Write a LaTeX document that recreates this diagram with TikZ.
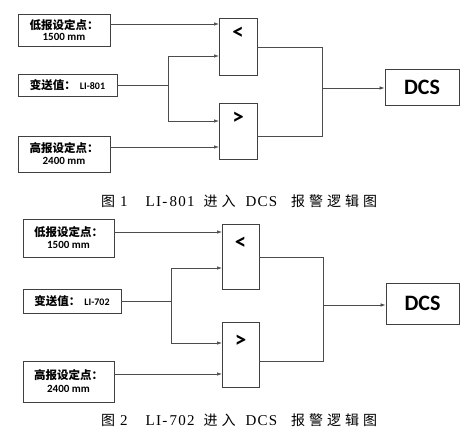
\documentclass[tikz,border=0pt]{standalone}
\usepackage{fontspec}
\setmainfont{Liberation Serif}
\newfontfamily\cjk{Noto Sans CJK SC}
\newfontfamily\calfont{Carlito}
\newfontfamily\spaced[LetterSpace=8]{Liberation Serif}
\usetikzlibrary{arrows.meta}
\tikzset{
  box/.style={draw=black!75, line width=0.8pt, inner sep=0pt, align=center, fill=white},
  cmp/.style={draw=black!75, line width=0.8pt, inner sep=0pt, minimum width=38pt},
  sym/.style={inner sep=0pt, font=\calfont\bfseries\fontsize{23}{23}\selectfont},
  wire/.style={draw=black!70, line width=0.7pt},
  arr/.style={wire, -{Latex[length=5pt,width=3.5pt]}},
  captext/.style={inner sep=0pt, font=\fontsize{15}{17}\selectfont},
  dcsbox/.style={box, font=\calfont\bfseries\fontsize{22}{22}\selectfont},
}
\newcommand{\zh}[1]{{\cjk\bfseries\fontsize{11.5}{13}\selectfont #1}}
\newcommand{\lt}[1]{{\calfont\bfseries\fontsize{11}{12}\selectfont #1}}
\newcommand{\lts}[1]{{\calfont\bfseries\fontsize{10}{12}\selectfont #1}}
\newcommand{\zhc}[1]{{\cjk\fontsize{14}{16}\selectfont #1}}
\newcommand{\lsp}[1]{{\spaced\fontsize{15}{17}\selectfont #1}}
\newcommand{\g}{\hspace{4pt}}
\newcommand{\captionline}[2]{\zhc{图}\hspace{5pt}\lsp{#1}\hspace{18pt}\lsp{LI-}\hspace{2.5pt}\lsp{#2}\hspace{9pt}\zhc{进}\hspace{4pt}\zhc{入}\hspace{10pt}\lsp{DCS}\hspace{14pt}\zhc{报}\g\zhc{警}\g\zhc{逻}\g\zhc{辑}\g\zhc{图}}
\begin{document}
\begin{tikzpicture}[x=1pt,y=1pt]
\useasboundingbox (0,0) rectangle (470,-433);
% ---------- Figure 1 ----------
\node[box, minimum width=92pt, minimum height=32pt] (low1) at (64,-30) {\zh{低报设定点：}\\[-1pt]\lt{1500 mm}};
\node[box, minimum width=99pt, minimum height=22pt] (tr1) at (67.5,-85) {\zh{变送值：}\hspace{4pt}\lts{LI-801}};
\node[box, minimum width=92pt, minimum height=36pt] (high1) at (64,-154) {\zh{高报设定点：}\\[0pt]\lt{2400 mm}};
\node[cmp, minimum height=57pt] (lt1) at (238,-46.5) {};
\node[sym] (lt1s) at (238,-33) {<};
\node[cmp, minimum height=56pt] (gt1) at (238,-131) {};
\node[sym] (gt1s) at (238,-118) {>};
\node[dcsbox, minimum width=74pt, minimum height=36pt] (dcs1) at (422,-87) {DCS};
\coordinate (a1) at (219,-24);
\coordinate (b1) at (219,-56);
\coordinate (c1) at (219,-121);
\coordinate (d1) at (219,-147);
\coordinate (br1) at (168,-85);
\coordinate (j1) at (322,-88);
\draw[arr] (low1.east |- a1) -- (a1);
\draw[wire] (tr1.east) -- (br1);
\draw[arr] (br1) |- (b1);
\draw[arr] (br1) |- (c1);
\draw[arr] (high1.east |- d1) -- (d1);
\draw[wire] (lt1.east |- 0,-47) -| (j1);
\draw[wire] (gt1.east |- 0,-136) -| (j1);
\draw[arr] (j1) -- (dcs1.west |- j1);
\node[captext, anchor=west] (cap1) at (101,-201.5) {\captionline{1}{801}};
% ---------- Figure 2 ----------
\node[box, minimum width=91pt, minimum height=38pt] (low2) at (68.5,-238) {\zh{低报设定点：}\\[0pt]\lt{1500 mm}};
\node[box, minimum width=98pt, minimum height=24pt] (tr2) at (72,-301) {\zh{变送值：}\hspace{4pt}\lts{LI-702}};
\node[box, minimum width=91pt, minimum height=41pt] (high2) at (68.5,-381.5) {\zh{高报设定点：}\\[1pt]\lt{2400 mm}};
\node[cmp, minimum width=37pt, minimum height=65pt] (lt2) at (240.5,-256.5) {};
\node[sym] (lt2s) at (240.5,-243) {<};
\node[cmp, minimum width=37pt, minimum height=65pt] (gt2) at (240.5,-354.5) {};
\node[sym] (gt2s) at (240.5,-341) {>};
\node[dcsbox, minimum width=73pt, minimum height=41pt] (dcs2) at (422.5,-303.5) {DCS};
\coordinate (a2) at (222,-232);
\coordinate (b2) at (222,-268);
\coordinate (c2) at (222,-343);
\coordinate (d2) at (222,-374);
\coordinate (br2) at (171,-301);
\coordinate (j2) at (323,-305);
\draw[arr] (low2.east |- a2) -- (a2);
\draw[wire] (tr2.east) -- (br2);
\draw[arr] (br2) |- (b2);
\draw[arr] (br2) |- (c2);
\draw[arr] (high2.east |- d2) -- (d2);
\draw[wire] (lt2.east |- 0,-257) -| (j2);
\draw[wire] (gt2.east |- 0,-361) -| (j2);
\draw[arr] (j2) -- (dcs2.west |- j2);
\node[captext, anchor=west] (cap2) at (101,-420) {\captionline{2}{702}};
\end{tikzpicture}
\end{document}
